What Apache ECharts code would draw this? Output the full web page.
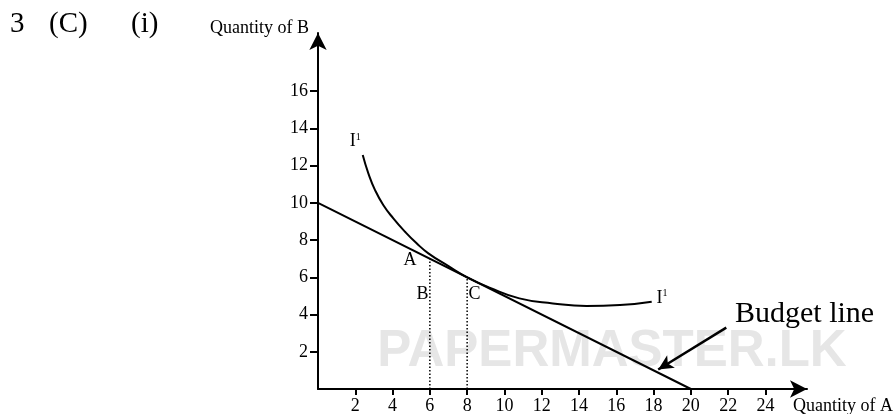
<!DOCTYPE html>
<html>
<head>
<meta charset="utf-8">
<script src="https://cdn.jsdelivr.net/npm/echarts@6/dist/echarts.min.js"></script>
<style>html,body{margin:0;padding:0;background:#fff;}#c{width:895px;height:414px;}</style>
</head>
<body>
<div id="c"></div>
<script>
// ---- data ----
const xTicks = [2, 4, 6, 8, 10, 12, 14, 16, 18, 20, 22, 24];
const yTicks = [2, 4, 6, 8, 10, 12, 14, 16];
const budgetX = [0, 20];
const budgetY = [10, 0];
const curveX = [2.4, 2.7, 3.06, 3.5, 4.04, 4.67, 5.29, 5.92, 7.0, 8.0, 9.2, 10.8, 12.6, 14.4, 16.2, 17.9];
const curveY = [12.57, 11.59, 10.69, 9.89, 9.17, 8.45, 7.83, 7.29, 6.6, 6.0, 5.45, 4.87, 4.6, 4.46, 4.51, 4.69];
const dropB = [[6, 0], [6, 7]];
const dropC = [[8, 0], [8, 6]];
const pointLabels = [
  [4.93, 6.9, 'A'],
  [5.6, 5.1, 'B'],
  [8.4, 5.1, 'C'],
  [2.0, 13.3, 'I{s|1}'],
  [18.45, 4.9, 'I{s|1}']
];
const arrowFrom = [21.9, 3.3];
const arrowTo = [18.25, 1.05];

const serif = 'Liberation Serif';
const chart = echarts.init(document.getElementById('c'));
chart.setOption({
  animation: false,
  backgroundColor: '#fff',
  grid: { left: 318, right: 88, top: 33, bottom: 25, containLabel: false, outerBoundsMode: 'none' },
  xAxis: {
    type: 'value', min: 0, max: 26.23,
    name: 'Quantity of A', nameLocation: 'end', nameGap: -14,
    nameTextStyle: { fontFamily: serif, fontSize: 18, color: '#000', align: 'left', verticalAlign: 'top', lineHeight: 34 },
    splitLine: { show: false },
    axisLine: { lineStyle: { color: '#000', width: 2 }, symbol: ['none', 'arrow'], symbolSize: [13, 17] },
    axisTick: { customValues: xTicks, length: 6, lineStyle: { color: '#000', width: 2 } },
    axisLabel: { customValues: xTicks, margin: 8, fontFamily: serif, fontSize: 18, color: '#000' }
  },
  yAxis: {
    type: 'value', min: 0, max: 19.13,
    name: 'Quantity of B', nameLocation: 'end', nameGap: -4,
    nameTextStyle: { fontFamily: serif, fontSize: 18, color: '#000', align: 'right', verticalAlign: 'bottom', padding: [0, 9, 0, 0] },
    splitLine: { show: false },
    axisLine: { lineStyle: { color: '#000', width: 2 }, symbol: ['none', 'arrow'], symbolSize: [13, 17] },
    axisTick: { customValues: yTicks, length: 8, lineStyle: { color: '#000', width: 2 } },
    axisLabel: { customValues: yTicks, margin: 10, fontFamily: serif, fontSize: 18, color: '#000' }
  },
  graphic: [
    { type: 'text', z: 0, style: { text: 'PAPERMASTER.LK', x: 612, y: 352, align: 'center', verticalAlign: 'middle', font: 'bold 51px "Liberation Sans"', fill: '#e6e6e6' } },
    { type: 'text', style: { text: '3', x: 10, y: 24, verticalAlign: 'middle', font: '29px "Liberation Serif"', fill: '#000' } },
    { type: 'text', style: { text: '(C)', x: 49, y: 24, verticalAlign: 'middle', font: '29px "Liberation Serif"', fill: '#000' } },
    { type: 'text', style: { text: '(i)', x: 131, y: 24, verticalAlign: 'middle', font: '29px "Liberation Serif"', fill: '#000' } },
    { type: 'text', style: { text: 'Budget line', x: 735, y: 314, verticalAlign: 'middle', font: '30px "Liberation Serif"', fill: '#000' } }
  ],
  series: [
    {
      type: 'line', name: 'Budget line', data: budgetX.map((x, i) => [x, budgetY[i]]),
      showSymbol: false, lineStyle: { color: '#000', width: 2 }, z: 3,
      markLine: {
        silent: true, symbol: ['none', 'arrow'], symbolSize: [11, 15],
        lineStyle: { color: '#000', width: 2.5, type: 'solid' }, label: { show: false },
        data: [[{ coord: arrowFrom }, { coord: arrowTo }]]
      }
    },
    {
      type: 'line', name: 'I1', data: curveX.map((x, i) => [x, curveY[i]]), smooth: 0.5,
      showSymbol: false, lineStyle: { color: '#000', width: 2 }, z: 3
    },
    { type: 'line', data: dropB, showSymbol: false, lineStyle: { color: '#000', width: 1.5, type: [1.5, 2] } },
    { type: 'line', data: dropC, showSymbol: false, lineStyle: { color: '#000', width: 1.5, type: [1.5, 2] } },
    {
      type: 'scatter', data: pointLabels, symbolSize: 1, itemStyle: { color: '#fff', opacity: 0 }, clip: false,
      label: {
        show: true, position: 'inside', formatter: p => p.data[2], opacity: 1,
        fontFamily: serif, fontSize: 18, color: '#000', textBorderWidth: 0,
        rich: { s: { fontFamily: serif, fontSize: 10, color: '#000', verticalAlign: 'top', lineHeight: 10, textBorderWidth: 0 } }
      }
    }
  ]
});
</script>
</body>
</html>
